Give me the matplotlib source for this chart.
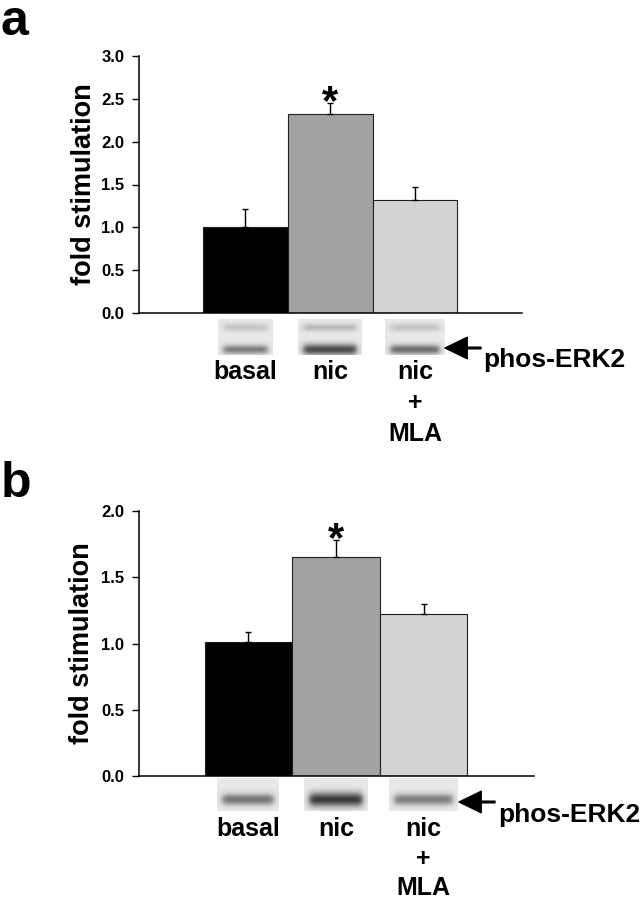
import numpy as np
import matplotlib
matplotlib.use('Agg')
import matplotlib.pyplot as plt

plt.rcParams['font.family'] = ['Liberation Sans', 'DejaVu Sans']
plt.rcParams['font.weight'] = 'bold'

# ---------------- data ----------------
categories = ['basal', 'nic', 'nic\n+\nMLA']
a_values = [1.00, 2.32, 1.32]
a_errors = [0.21, 0.13, 0.15]
b_values = [1.01, 1.65, 1.22]
b_errors = [0.08, 0.13, 0.08]
a_yticks = [0.0, 0.5, 1.0, 1.5, 2.0, 2.5, 3.0]
b_yticks = [0.0, 0.5, 1.0, 1.5, 2.0]
significant = [False, True, False]
bar_colors = ['#000000', '#a2a2a2', '#d3d3d3']
# blot band darkness (0 = none, 1 = black)
a_blot_upper = [0.14, 0.18, 0.14]
a_blot_lower = [0.42, 0.62, 0.48]
b_blot_band = [0.45, 0.68, 0.42]
blot_label = 'phos-ERK2'

W, H = 643, 900
fig = plt.figure(figsize=(W / 100, H / 100), dpi=100)
fig.patch.set_facecolor('white')


def make_blot(width, height, bands):
    """bands: list of (centre_px_from_top, sigma_px, darkness)"""
    yy = np.arange(height)[:, None]
    xx = np.arange(width)[None, :]
    edge = 0.5 * (np.tanh((xx - 5) / 3.5) - np.tanh((xx - (width - 6)) / 3.5))
    img = np.full((height, width), 0.91)
    for c, s, d in bands:
        img = img - d * np.exp(-0.5 * ((yy - c) / s) ** 2) * edge
    return np.clip(img, 0, 1)


def panel(rect, ylim_top, yticks, values, errors, blots, blot_top, blot_h,
          lab_off, lab_ls, arrow_y, arrow_tip, text_x, text_base, ylab_x, letter, letter_base):
    left, right, top, bottom = rect
    ax = fig.add_axes([left / W, 1 - bottom / H, (right - left) / W, (bottom - top) / H])
    x = np.arange(len(values))
    xl = (-1.25, 3.26)
    ax.bar(x, values, width=1.0, color=bar_colors, edgecolor='#202020', linewidth=0.8, zorder=2)
    ax.errorbar(x, values, yerr=[np.zeros(len(errors)), errors], fmt='none', ecolor='black',
                elinewidth=1.0, capsize=2.5, capthick=1.0, zorder=3)
    for i, s in enumerate(significant):
        if s:
            ax.annotate('*', xy=(x[i], values[i] + errors[i]), xytext=(0, -11),
                        textcoords='offset pixels', ha='center', va='baseline',
                        fontsize=30, fontweight='bold')
    ax.set_xlim(*xl)
    ax.set_ylim(0, ylim_top)
    ax.set_yticks(yticks)
    ax.set_yticklabels([f'{t:.1f}' for t in yticks], fontsize=12, fontweight='bold')
    ax.set_xticks([])
    for sp in ('top', 'right'):
        ax.spines[sp].set_visible(False)
    for sp in ('left', 'bottom'):
        ax.spines[sp].set_linewidth(1.1)
    ax.tick_params(axis='y', direction='out', length=5, width=1.0, pad=5.5)
    ax.patch.set_alpha(0)

    pxx = (right - left) / (xl[1] - xl[0])
    pxy = (bottom - top) / ylim_top
    for i, (wpx, bands) in enumerate(blots):
        img = make_blot(wpx, blot_h, bands)
        ax.imshow(img, cmap='gray', vmin=0, vmax=1, aspect='auto', interpolation='bilinear',
                  extent=(x[i] - wpx / 2 / pxx, x[i] + wpx / 2 / pxx,
                          -(blot_top + blot_h - bottom) / pxy, -(blot_top - bottom) / pxy),
                  clip_on=False, zorder=1)
    ax.set_xlim(*xl)
    ax.set_ylim(0, ylim_top)

    for i, c in enumerate(categories):
        ax.annotate(c, xy=(x[i], 0), xytext=(0, -lab_off), textcoords='offset pixels',
                    ha='center', va='top', fontsize=18, fontweight='bold', linespacing=lab_ls,
                    annotation_clip=False)

    ax.annotate('', xy=(arrow_tip, H - arrow_y), xytext=(arrow_tip + 36, H - arrow_y),
                xycoords='figure pixels', textcoords='figure pixels',
                arrowprops=dict(facecolor='black', edgecolor='black', width=1.2,
                                headwidth=15.5, headlength=16, shrink=0))
    fig.text(text_x / W, 1 - text_base / H, blot_label, fontsize=19, fontweight='bold',
             ha='left', va='baseline')
    fig.text(ylab_x / W, 1 - (top + bottom) / 2 / H, 'fold stimulation', rotation=90,
             fontsize=19.5, fontweight='bold', ha='center', va='center')
    fig.text(1 / W, 1 - letter_base / H, letter, fontsize=36, fontweight='bold',
             ha='left', va='baseline')
    return ax


blots_a = [(55, [(8, 2.8, a_blot_upper[i]), (30, 3.2, a_blot_lower[i])]) if i == 0 else
           ((64 if i == 1 else 60), [(8, 2.8, a_blot_upper[i]), (30, 3.4 + 0.5 * (i == 1), a_blot_lower[i])])
           for i in range(3)]
blots_b = [(w, [(21, 4.0 + 1.0 * (i == 1), b_blot_band[i])]) for i, w in enumerate([62, 64, 69])]

panel((139, 522, 56, 313), 3.0, a_yticks, a_values, a_errors, blots_a, 319, 36,
      47, 1.37, 348, 445, 483, 367, 84, 'a', 35)
panel((139, 534, 511, 776), 2.0, b_yticks, b_values, b_errors, blots_b, 778, 33,
      41, 1.29, 802, 459, 498, 822, 82, 'b', 497)

fig.savefig('out.png', dpi=100)
